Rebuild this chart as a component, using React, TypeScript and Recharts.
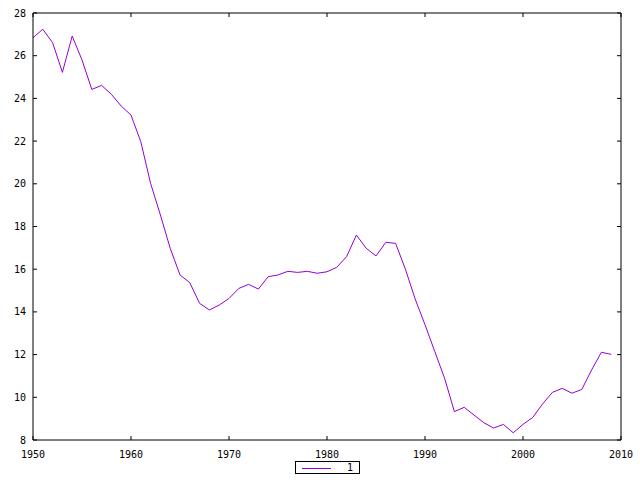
import React from 'react';
import { Legend, Line, LineChart, XAxis, YAxis } from 'recharts';

const years = [
  1950, 1951, 1952, 1953, 1954, 1955, 1956, 1957, 1958, 1959,
  1960, 1961, 1962, 1963, 1964, 1965, 1966, 1967, 1968, 1969,
  1970, 1971, 1972, 1973, 1974, 1975, 1976, 1977, 1978, 1979,
  1980, 1981, 1982, 1983, 1984, 1985, 1986, 1987, 1988, 1989,
  1990, 1991, 1992, 1993, 1994, 1995, 1996, 1997, 1998, 1999,
  2000, 2001, 2002, 2003, 2004, 2005, 2006, 2007, 2008, 2009,
];

const values = [
  26.84, 27.24, 26.61, 25.22, 26.92, 25.8, 24.42, 24.61, 24.19, 23.64,
  23.22, 21.97, 20.02, 18.54, 16.98, 15.73, 15.37, 14.4, 14.09, 14.32,
  14.63, 15.1, 15.29, 15.07, 15.65, 15.73, 15.9, 15.85, 15.9, 15.81,
  15.88, 16.09, 16.59, 17.6, 16.98, 16.62, 17.26, 17.21, 16.0, 14.6,
  13.4, 12.14, 10.89, 9.33, 9.53, 9.17, 8.81, 8.56, 8.73, 8.34,
  8.73, 9.06, 9.69, 10.23, 10.42, 10.19, 10.37, 11.28, 12.11, 12.01,
];

const xTicks = [1950, 1960, 1970, 1980, 1990, 2000, 2010];
const yTicks = [8, 10, 12, 14, 16, 18, 20, 22, 24, 26, 28];
const seriesName = '1';

const data = years.map((year, i) => ({ year, value: values[i] }));

const font = { fontFamily: '"DejaVu Sans Mono", monospace', fontSize: 10, fill: '#000' };
const noTick = () => <g />;

const GnuplotLegend = () => (
  <div
    style={{
      width: 63,
      height: 11,
      border: '1px solid #000',
      position: 'relative',
      fontFamily: '"DejaVu Sans Mono", monospace',
      fontSize: 10,
      lineHeight: '11px',
      background: '#fff',
    }}
  >
    <div style={{ position: 'absolute', left: 6, top: 6, width: 29, height: 1, background: '#9400d3' }} />
    <span style={{ position: 'absolute', left: 51, top: 0 }}>{seriesName}</span>
  </div>
);

export default function App() {
  return (
    <div style={{ position: 'absolute', left: 0, top: 0, width: 640, height: 480, background: '#fff' }}>
      <LineChart width={640} height={480} data={data} margin={{ top: 12, right: 18, bottom: 0, left: 8 }}>
        <XAxis
          dataKey="year"
          type="number"
          domain={[1950, 2010]}
          ticks={xTicks}
          height={40}
          tickSize={-4}
          tickMargin={15}
          tick={font}
          stroke="#000"
          interval={0}
        />
        <XAxis
          xAxisId="top"
          dataKey="year"
          type="number"
          orientation="top"
          domain={[1950, 2010]}
          ticks={xTicks}
          height={1}
          tickSize={-4}
          tick={noTick}
          stroke="#000"
          interval={0}
        />
        <YAxis
          type="number"
          domain={[8, 28]}
          ticks={yTicks}
          width={25}
          tickSize={-4}
          tickMargin={11}
          tick={font}
          stroke="#000"
          interval={0}
        />
        <YAxis
          yAxisId="right"
          orientation="right"
          type="number"
          domain={[8, 28]}
          ticks={yTicks}
          width={1}
          tickSize={-4}
          tick={noTick}
          stroke="#000"
          interval={0}
        />
        <Legend
          layout="horizontal"
          verticalAlign="middle"
          align="center"
          content={<GnuplotLegend />}
          wrapperStyle={{ position: 'absolute', left: 295, top: 461, width: 65, height: 13 }}
        />
        <Line
          type="linear"
          dataKey="value"
          name={seriesName}
          stroke="#9400d3"
          strokeWidth={1}
          dot={false}
          isAnimationActive={false}
        />
        {/* invisible twin so the mirrored border axes get drawn */}
        <Line
          xAxisId="top"
          yAxisId="right"
          type="linear"
          dataKey="value"
          stroke="none"
          legendType="none"
          dot={false}
          activeDot={false}
          isAnimationActive={false}
        />
      </LineChart>
    </div>
  );
}
